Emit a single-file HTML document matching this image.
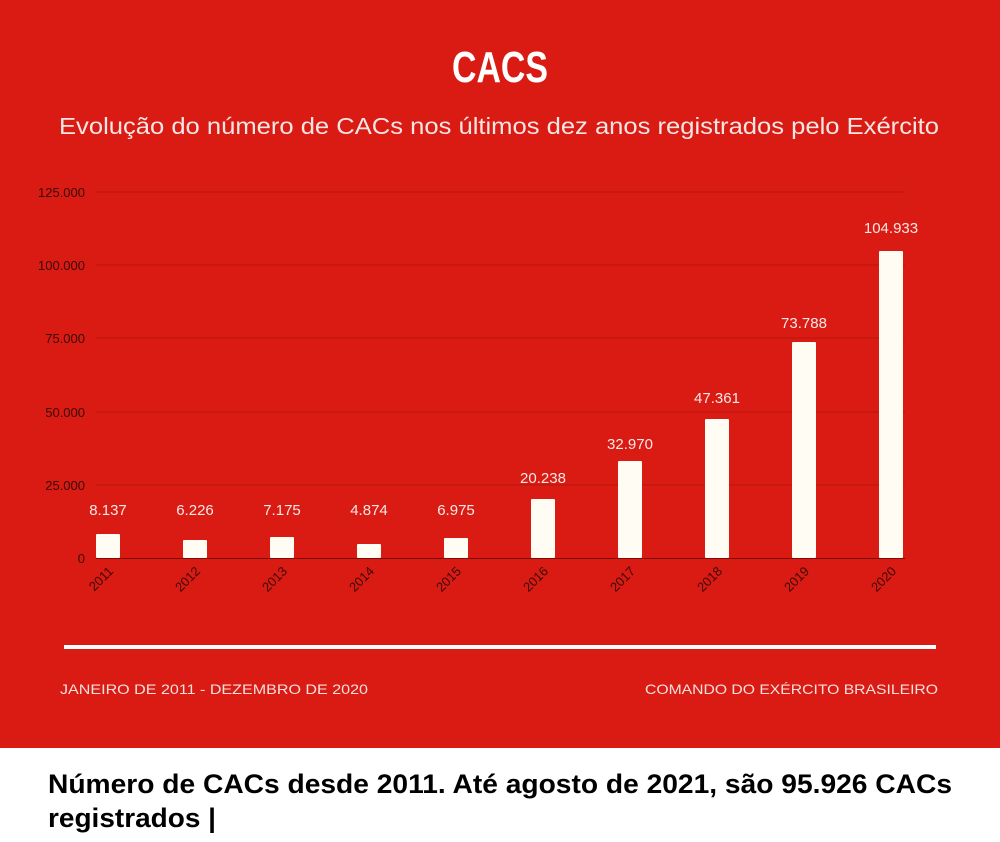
<!DOCTYPE html>
<html><head><meta charset="utf-8"><style>
body{margin:0;width:1000px;height:837px;overflow:hidden;background:#fff}
</style></head><body>
<svg width="1000" height="837" xmlns="http://www.w3.org/2000/svg" font-family="Liberation Sans, sans-serif">
<rect x="0" y="0" width="1000" height="748" fill="#d91b13"/>
<text x="500" y="82" text-anchor="middle" fill="#fff" font-size="44" font-weight="bold" textLength="96" lengthAdjust="spacingAndGlyphs">CACS</text>
<text x="499" y="134" text-anchor="middle" fill="#f6e6e4" font-size="23" textLength="880" lengthAdjust="spacingAndGlyphs">Evolução do número de CACs nos últimos dez anos registrados pelo Exército</text>
<g stroke="#b8140e" stroke-width="1">
<line x1="96" y1="192" x2="905" y2="192"/><line x1="96" y1="265" x2="905" y2="265"/>
<line x1="96" y1="338" x2="905" y2="338"/><line x1="96" y1="412" x2="905" y2="412"/>
<line x1="96" y1="485" x2="905" y2="485"/>
</g>
<line x1="96" y1="558.5" x2="905" y2="558.5" stroke="#7a0c08" stroke-width="1"/>
<g fill="#3a0805" font-size="13" text-anchor="end">
<text x="85" y="197">125.000</text><text x="85" y="270">100.000</text>
<text x="85" y="343">75.000</text><text x="85" y="417">50.000</text>
<text x="85" y="490">25.000</text><text x="85" y="563">0</text>
</g>
<g fill="#fffdf3">
<rect x="96" y="534" width="24" height="24" rx="1"/>
<rect x="183" y="540" width="24" height="18" rx="1"/>
<rect x="270" y="537" width="24" height="21" rx="1"/>
<rect x="357" y="544" width="24" height="14" rx="1"/>
<rect x="444" y="538" width="24" height="20" rx="1"/>
<rect x="531" y="499" width="24" height="59" rx="1"/>
<rect x="618" y="461" width="24" height="97" rx="1"/>
<rect x="705" y="419" width="24" height="139" rx="1"/>
<rect x="792" y="342" width="24" height="216" rx="1"/>
<rect x="879" y="251" width="24" height="307" rx="1"/>
</g>
<g fill="#f8e8e6" font-size="15" text-anchor="middle">
<text x="108" y="515">8.137</text><text x="195" y="515">6.226</text>
<text x="282" y="515">7.175</text><text x="369" y="515">4.874</text>
<text x="456" y="515">6.975</text><text x="543" y="483">20.238</text>
<text x="630" y="449">32.970</text><text x="717" y="403">47.361</text>
<text x="804" y="328">73.788</text><text x="891" y="233">104.933</text>
</g>
<g fill="#3a0805" font-size="13" text-anchor="end">
<text transform="translate(114,572) rotate(-45)">2011</text>
<text transform="translate(201,572) rotate(-45)">2012</text>
<text transform="translate(288,572) rotate(-45)">2013</text>
<text transform="translate(375,572) rotate(-45)">2014</text>
<text transform="translate(462,572) rotate(-45)">2015</text>
<text transform="translate(549,572) rotate(-45)">2016</text>
<text transform="translate(636,572) rotate(-45)">2017</text>
<text transform="translate(723,572) rotate(-45)">2018</text>
<text transform="translate(810,572) rotate(-45)">2019</text>
<text transform="translate(897,572) rotate(-45)">2020</text>
</g>
<rect x="64" y="645" width="872" height="4" fill="#fff"/>
<text x="60" y="694" fill="#f6e0dd" font-size="14" textLength="308" lengthAdjust="spacingAndGlyphs">JANEIRO DE 2011 - DEZEMBRO DE 2020</text>
<text x="938" y="694" text-anchor="end" fill="#f6e0dd" font-size="14" textLength="293" lengthAdjust="spacingAndGlyphs">COMANDO DO EXÉRCITO BRASILEIRO</text>
<text x="48" y="793" fill="#000" font-size="27" font-weight="bold" textLength="904" lengthAdjust="spacingAndGlyphs">Número de CACs desde 2011. Até agosto de 2021, são 95.926 CACs</text>
<text x="48" y="827" fill="#000" font-size="27" font-weight="bold" textLength="168" lengthAdjust="spacingAndGlyphs">registrados |</text>
</svg>
</body></html>
